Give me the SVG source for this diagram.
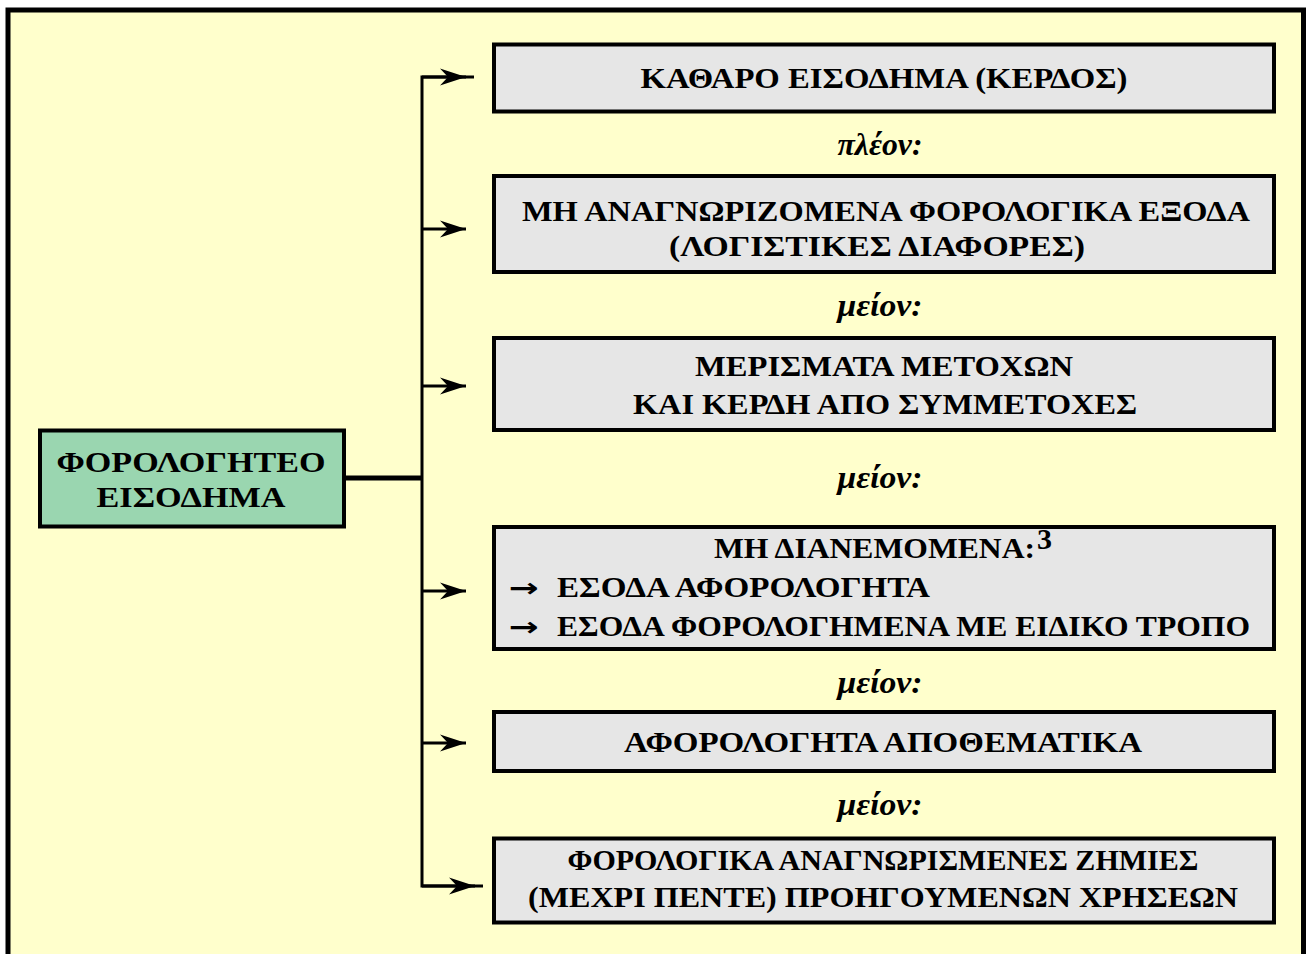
<svg xmlns="http://www.w3.org/2000/svg" width="1308" height="954" viewBox="0 0 1308 954">
<defs>
<style>
.box{fill:#E6E6E6;stroke:#000;stroke-width:4}
.t{font-family:"Liberation Serif","Times New Roman",serif;font-weight:bold;font-size:30px;fill:#000;text-anchor:middle}
.s{text-anchor:start}
.l{font-family:"Liberation Serif","Times New Roman",serif;font-weight:bold;font-style:italic;font-size:31px;fill:#000;text-anchor:middle}
.ar{font-family:"DejaVu Sans",sans-serif;font-weight:bold;font-size:26px;fill:#000}
.c{fill:none;stroke:#000;stroke-width:3}
</style>
<marker id="ah" markerUnits="userSpaceOnUse" markerWidth="30" markerHeight="20" refX="0" refY="0" viewBox="-27 -10 28 20" orient="auto" overflow="visible">
<path d="M0,0 L-26,-8.5 L-18,0 L-26,8.5 Z" fill="#000"/>
</marker>
</defs>
<rect x="0" y="0" width="1308" height="954" fill="#FFFFFF"/>
<rect x="8" y="10" width="1295.5" height="960" fill="#FFFFCC" stroke="#000" stroke-width="5"/>

<g id="connectors">
<line x1="346" y1="478" x2="422" y2="478" stroke="#000" stroke-width="5"/>
<path class="c" d="M474,77 H422 V886 H483"/>
<line class="c" x1="422" y1="77" x2="466" y2="77" marker-end="url(#ah)"/>
<line class="c" x1="422" y1="229" x2="466" y2="229" marker-end="url(#ah)"/>
<line class="c" x1="422" y1="386" x2="466" y2="386" marker-end="url(#ah)"/>
<line class="c" x1="422" y1="591" x2="466" y2="591" marker-end="url(#ah)"/>
<line class="c" x1="422" y1="743" x2="466" y2="743" marker-end="url(#ah)"/>
<line class="c" x1="422" y1="886" x2="475" y2="886" marker-end="url(#ah)"/>
</g>

<g id="root">
<rect x="40" y="430.5" width="304" height="96" fill="#9AD6B0" stroke="#000" stroke-width="4"/>
<text class="t" x="191" y="472" textLength="269" lengthAdjust="spacingAndGlyphs">ΦΟΡΟΛΟΓΗΤΕΟ</text>
<text class="t" x="191" y="507" textLength="189" lengthAdjust="spacingAndGlyphs">ΕΙΣΟΔΗΜΑ</text>
</g>

<g id="n1">
<rect class="box" x="494" y="44.5" width="780" height="67"/>
<text class="t" x="884" y="88" textLength="487" lengthAdjust="spacingAndGlyphs">ΚΑΘΑΡΟ ΕΙΣΟΔΗΜΑ (ΚΕΡΔΟΣ)</text>
</g>
<text class="l" x="880" y="155" textLength="85" lengthAdjust="spacingAndGlyphs">πλέον:</text>

<g id="n2">
<rect class="box" x="494" y="176" width="780" height="96"/>
<text class="t" x="886" y="221" textLength="728" lengthAdjust="spacingAndGlyphs">ΜΗ ΑΝΑΓΝΩΡΙΖΟΜΕΝΑ ΦΟΡΟΛΟΓΙΚΑ ΕΞΟΔΑ</text>
<text class="t" x="877" y="256" textLength="416" lengthAdjust="spacingAndGlyphs">(ΛΟΓΙΣΤΙΚΕΣ ΔΙΑΦΟΡΕΣ)</text>
</g>
<text class="l" x="880" y="316" textLength="85" lengthAdjust="spacingAndGlyphs">μείον:</text>

<g id="n3">
<rect class="box" x="494" y="338" width="780" height="92"/>
<text class="t" x="884" y="376" textLength="378" lengthAdjust="spacingAndGlyphs">ΜΕΡΙΣΜΑΤΑ ΜΕΤΟΧΩΝ</text>
<text class="t" x="885" y="414" textLength="504" lengthAdjust="spacingAndGlyphs">ΚΑΙ ΚΕΡΔΗ ΑΠΟ ΣΥΜΜΕΤΟΧΕΣ</text>
</g>
<text class="l" x="880" y="488" textLength="85" lengthAdjust="spacingAndGlyphs">μείον:</text>

<g id="n4">
<rect class="box" x="494" y="527" width="780" height="122"/>
<text class="t s" x="714" y="558" textLength="321" lengthAdjust="spacingAndGlyphs">ΜΗ ΔΙΑΝΕΜΟΜΕΝΑ:</text>
<text class="t s" x="1037" y="549" font-size="16">3</text>
<text class="ar" x="509" y="597" textLength="30" lengthAdjust="spacingAndGlyphs">→</text>
<text class="t s" x="557" y="597" textLength="373" lengthAdjust="spacingAndGlyphs">ΕΣΟΔΑ ΑΦΟΡΟΛΟΓΗΤΑ</text>
<text class="ar" x="509" y="636" textLength="30" lengthAdjust="spacingAndGlyphs">→</text>
<text class="t s" x="557" y="636" textLength="693" lengthAdjust="spacingAndGlyphs">ΕΣΟΔΑ ΦΟΡΟΛΟΓΗΜΕΝΑ ΜΕ ΕΙΔΙΚΟ ΤΡΟΠΟ</text>
</g>
<text class="l" x="880" y="693" textLength="85" lengthAdjust="spacingAndGlyphs">μείον:</text>

<g id="n5">
<rect class="box" x="494" y="712" width="780" height="59"/>
<text class="t" x="883" y="752" textLength="518" lengthAdjust="spacingAndGlyphs">ΑΦΟΡΟΛΟΓΗΤΑ ΑΠΟΘΕΜΑΤΙΚΑ</text>
</g>
<text class="l" x="880" y="815" textLength="85" lengthAdjust="spacingAndGlyphs">μείον:</text>

<g id="n6">
<rect class="box" x="494" y="838.5" width="780" height="84"/>
<text class="t" x="883" y="870" textLength="631" lengthAdjust="spacingAndGlyphs">ΦΟΡΟΛΟΓΙΚΑ ΑΝΑΓΝΩΡΙΣΜΕΝΕΣ ΖΗΜΙΕΣ</text>
<text class="t" x="883" y="907" textLength="710" lengthAdjust="spacingAndGlyphs">(ΜΕΧΡΙ ΠΕΝΤΕ) ΠΡΟΗΓΟΥΜΕΝΩΝ ΧΡΗΣΕΩΝ</text>
</g>
</svg>
